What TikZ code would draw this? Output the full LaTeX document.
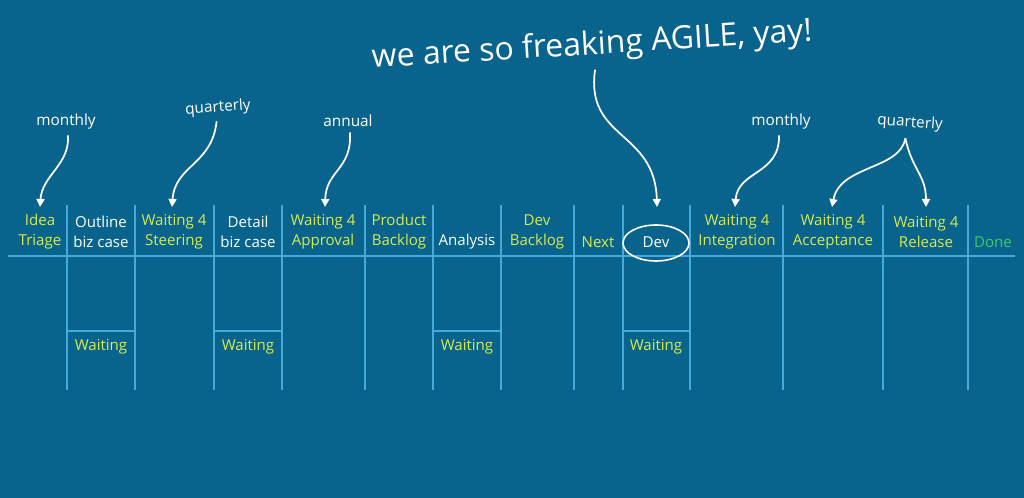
\documentclass[tikz,border=0pt]{standalone}
\usepackage{fontspec}
\setmainfont{Open Sans}
\usetikzlibrary{arrows.meta}
\definecolor{bg}{RGB}{8,100,140}
\definecolor{yel}{RGB}{215,235,75}
\definecolor{ln}{RGB}{70,170,220}
\definecolor{dn}{RGB}{60,205,100}
\begin{document}
\begin{tikzpicture}[x=0.75pt,y=-0.75pt,
  grid/.style={draw=ln,line width=1pt},
  lbl/.style={font=\fontsize{11.3}{15}\selectfont,align=center,inner sep=0pt,text=yel},
  wht/.style={lbl,text=white},
  note/.style={font=\fontsize{11.5}{13}\selectfont,text=white,inner sep=1pt},
  arr/.style={draw=white,line width=1.3pt,-{Triangle[width=6pt,length=6pt]}}]
\fill[bg] (0,0) rectangle (1024,498);
\useasboundingbox (0,0) rectangle (1024,498);
\draw[grid] (8,256) -- (1015,256);
\foreach \x in {67,135,214,282,365,433,501,574,623,690,783,883,968}
  \draw[grid] (\x,205) -- (\x,390);
\foreach \a/\b in {67/135,214/282,433/501,623/690}
  \draw[grid] (\a,331) -- (\b,331);
\node[lbl] (c1) at (40,232) {Idea\\Triage};
\node[wht] (c2) at (101,232) {Outline\\biz case};
\node[lbl] (c3) at (174,232) {Waiting 4\\Steering};
\node[wht] (c4) at (248,232) {Detail\\biz case};
\node[lbl] (c5) at (323,232) {Waiting 4\\Approval};
\node[lbl] (c6) at (399,232) {Product\\Backlog};
\node[wht] (c7) at (467,242) {Analysis};
\node[lbl] (c8) at (537,232) {Dev\\Backlog};
\node[lbl] (c9) at (598,242) {Next};
\node[wht] (c10) at (656,242) {Dev};
\draw[white,line width=1.2pt] (656,243) ellipse (33 and 18);
\node[lbl] (c11) at (737,232) {Waiting 4\\Integration};
\node[lbl] (c12) at (833,232) {Waiting 4\\Acceptance};
\node[lbl] (c13) at (926,232) {Waiting 4\\Release};
\node[lbl,text=dn] (c14) at (993,242) {Done};
\foreach \x/\n in {101/w1,248/w2,467/w3,656/w4}
  \node[lbl] (\n) at (\x,347) {Waiting};
\node[note] (m1) at (66,122) {monthly};
\node[note,rotate=4] (q1) at (218,108) {quarterly};
\node[note] (a1) at (348,121) {annual};
\node[note] (m2) at (781,122) {monthly};
\node[note,rotate=-4] (q2) at (910,123) {quarterly};
\node[note,font=\fontsize{24}{27}\selectfont,rotate=3.5] (big) at (592,46) {we are so freaking AGILE, yay!};
\coordinate (t1) at (40,207); \coordinate (t3) at (172,207); \coordinate (t5) at (325,207);
\coordinate (t10) at (657,207); \coordinate (t11) at (735,207);
\coordinate (t12) at (832,207); \coordinate (t13) at (926,207);
\draw[arr] (m1.south) ++(2,4) .. controls (70,165) and (42,175) .. (t1);
\draw[arr] (q1.south) ++(-2,4) .. controls (212,165) and (175,165) .. (t3);
\draw[arr] (a1.south) ++(2,4) .. controls (352,170) and (326,170) .. (t5);
\draw[arr] (big.south) ++(2,6) .. controls (585,140) and (655,130) .. (t10);
\draw[arr] (m2.south) ++(-2,4) .. controls (780,175) and (738,170) .. (t11);
\draw[arr] (q2.south) ++(-4,6) .. controls (900,170) and (840,165) .. (t12);
\draw[arr] (q2.south) ++(-4,6) .. controls (912,170) and (926,175) .. (t13);
\end{tikzpicture}
\end{document}
